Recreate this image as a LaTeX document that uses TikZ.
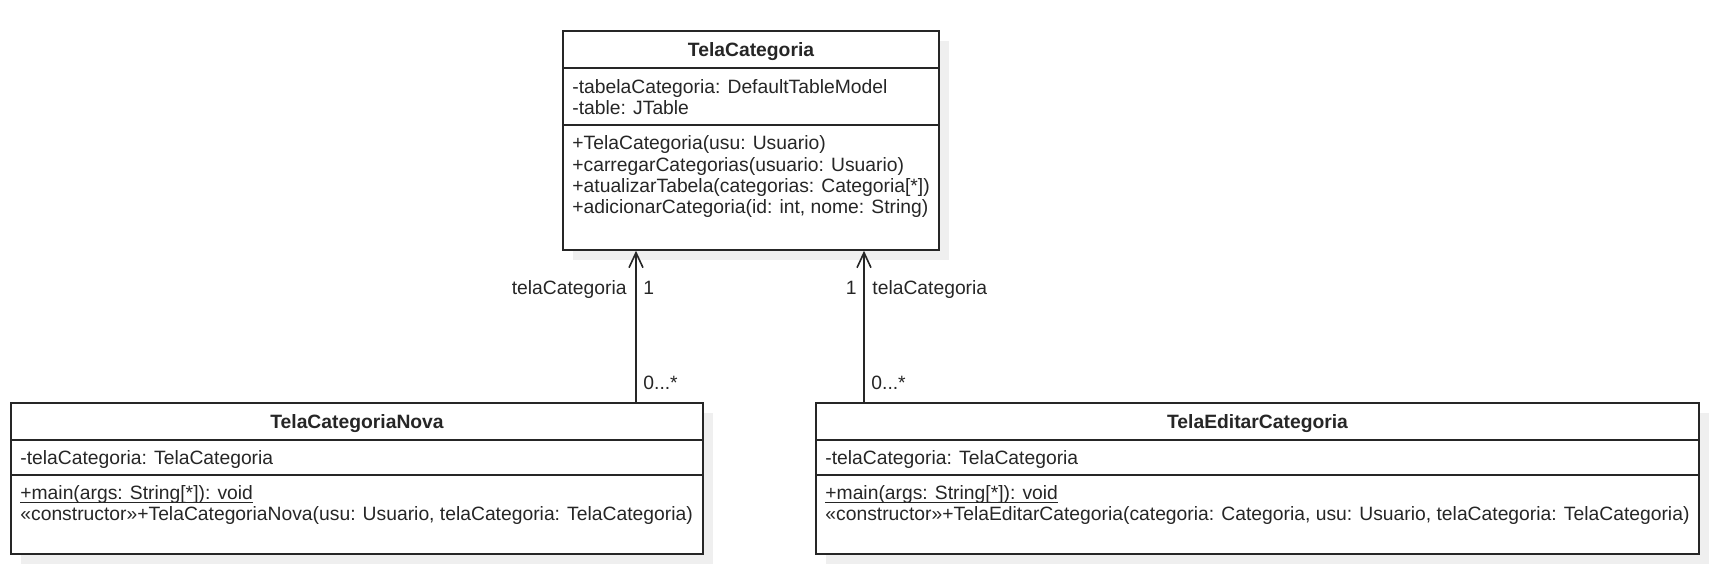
\documentclass[tikz,border=0pt]{standalone}
\usepackage{fontspec}
\setmainfont{Liberation Sans}
\usetikzlibrary{arrows.meta,shadows,calc}
\definecolor{ink}{HTML}{262626}
\definecolor{shade}{HTML}{EFEFEF}
\tikzset{
  cls/.style={draw=ink, line width=0.8pt, fill=white, inner sep=0pt,
    drop shadow={shadow xshift=5pt, shadow yshift=-5pt, fill=shade, opacity=1}},
  txt/.style={inner sep=0pt, anchor=base west, text=ink, font=\fontsize{9.65}{11}\selectfont},
  ttl/.style={inner sep=0pt, anchor=base, text=ink, font=\fontsize{9.65}{11}\selectfont\bfseries},
  lbl/.style={inner sep=0pt, text=ink, font=\fontsize{9.65}{11}\selectfont},
  sepline/.style={draw=ink, line width=0.8pt},
  ul/.style={draw=ink, line width=0.55pt},
  assoc/.style={draw=ink, line width=0.8pt, -{Straight Barb[length=7.5pt,width=7pt]}},
}
\begin{document}
\begin{tikzpicture}[x=0.5pt,y=-0.5pt]
\useasboundingbox (0,0) rectangle (1712,566);

% ---- TelaCategoria
\node[cls, minimum width=188pt, minimum height=109.5pt] (tc) at (751,140.5) {};
\draw[sepline] ($(tc.north west)+(0,38)$) -- ($(tc.north east)+(0,38)$);
\draw[sepline] ($(tc.north west)+(0,95)$) -- ($(tc.north east)+(0,95)$);
\node[ttl] (tcT) at (751,57) {TelaCategoria};
\node[txt] (tcA1) at (572,94) {-tabelaCategoria: DefaultTableModel};
\node[txt] (tcA2) at (572,115) {-table: JTable};
\node[txt] (tcM1) at (572,150) {+TelaCategoria(usu: Usuario)};
\node[txt] (tcM2) at (572,172) {+carregarCategorias(usuario: Usuario)};
\node[txt] (tcM3) at (572,193) {+atualizarTabela(categorias: Categoria[*])};
\node[txt] (tcM4) at (572,214) {+adicionarCategoria(id: int, nome: String)};

% ---- TelaCategoriaNova
\node[cls, minimum width=346pt, minimum height=75.5pt] (tn) at (357,478.5) {};
\draw[sepline] ($(tn.north west)+(0,38)$) -- ($(tn.north east)+(0,38)$);
\draw[sepline] ($(tn.north west)+(0,73)$) -- ($(tn.north east)+(0,73)$);
\node[ttl] (tnT) at (357,429) {TelaCategoriaNova};
\node[txt] (tnA1) at (20,464) {-telaCategoria: TelaCategoria};
\node[txt] (tnM1) at (20,499) {+main(args: String[*]): void};
\draw[ul] ([yshift=-1.6pt]tnM1.base west) -- ([yshift=-1.6pt]tnM1.base east);
\node[txt] (tnM2) at (20,520) {«constructor»+TelaCategoriaNova(usu: Usuario, telaCategoria: TelaCategoria)};

% ---- TelaEditarCategoria
\node[cls, minimum width=441.5pt, minimum height=75.5pt] (te) at (1257.5,478.5) {};
\draw[sepline] ($(te.north west)+(0,38)$) -- ($(te.north east)+(0,38)$);
\draw[sepline] ($(te.north west)+(0,73)$) -- ($(te.north east)+(0,73)$);
\node[ttl] (teT) at (1257.5,429) {TelaEditarCategoria};
\node[txt] (teA1) at (825,464) {-telaCategoria: TelaCategoria};
\node[txt] (teM1) at (825,499) {+main(args: String[*]): void};
\draw[ul] ([yshift=-1.6pt]teM1.base west) -- ([yshift=-1.6pt]teM1.base east);
\node[txt] (teM2) at (825,520) {«constructor»+TelaEditarCategoria(categoria: Categoria, usu: Usuario, telaCategoria: TelaCategoria)};

% ---- associations
\coordinate (c1) at (636,0);
\coordinate (c2) at (864,0);
\draw[assoc] (tn.north -| c1) -- (tc.south -| c1);
\draw[assoc] (te.north -| c2) -- (tc.south -| c2);

\node[lbl, anchor=base east] (l1r) at (627,295) {telaCategoria};
\node[lbl, anchor=base west] (l1m) at (643,295) {1};
\node[lbl, anchor=base west] (l1s) at (643,390) {0...*};
\node[lbl, anchor=base east] (l2m) at (857,295) {1};
\node[lbl, anchor=base west] (l2r) at (872,295) {telaCategoria};
\node[lbl, anchor=base west] (l2s) at (871,390) {0...*};
\end{tikzpicture}
\end{document}
